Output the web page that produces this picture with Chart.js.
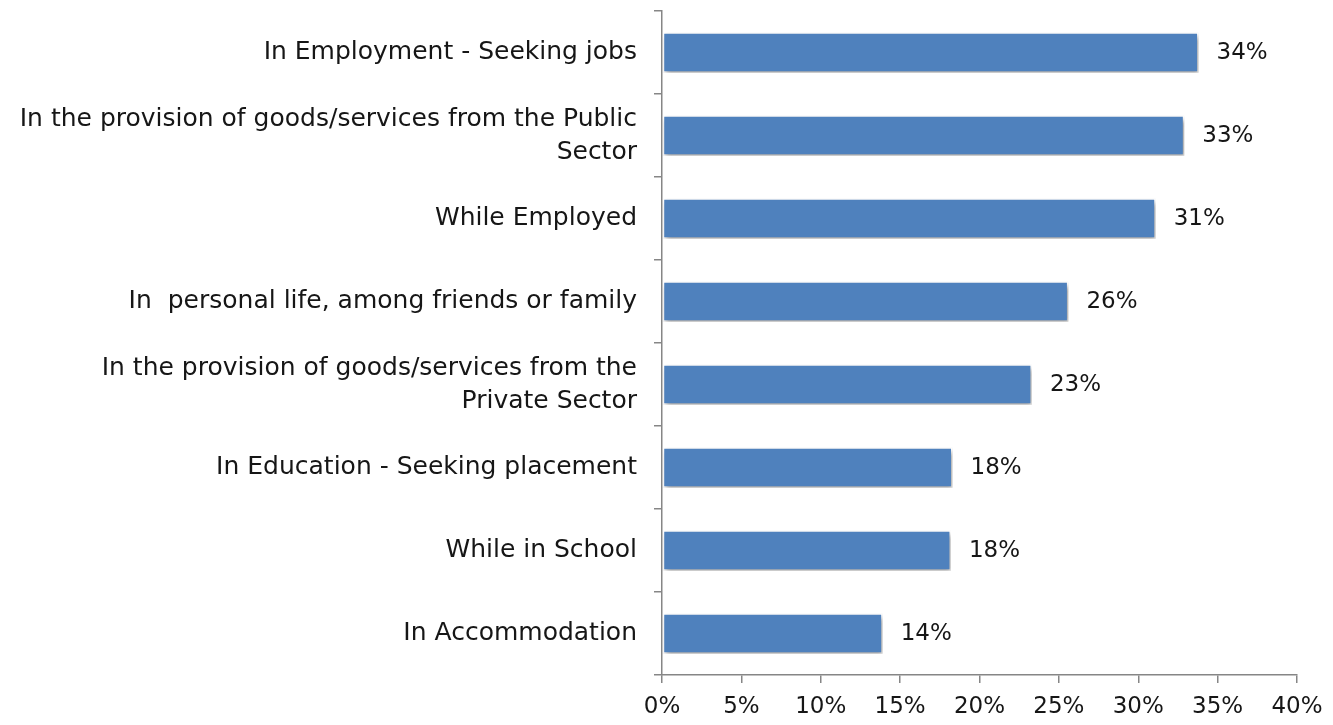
<!DOCTYPE html>
<html>
<head>
<meta charset="utf-8">
<script src="https://cdn.jsdelivr.net/npm/chart.js@4.4.1/dist/chart.umd.min.js"></script>
<style>
  html, body { margin: 0; padding: 0; background: #fff; }
  #wrap { width: 1333px; height: 725px; position: relative; }
</style>
</head>
<body>
<div id="wrap"><canvas id="c"></canvas></div>
<script>
// Where discrimination was experienced (share of respondents)
const categories = [
  'In Employment - Seeking jobs',
  ['In the provision of goods/services from the Public', 'Sector'],
  'While Employed',
  'In  personal life, among friends or family',
  ['In the provision of goods/services from the', 'Private Sector'],
  'In Education - Seeking placement',
  'While in School',
  'In Accommodation'
];
const shares = [33.8, 32.9, 31.1, 25.6, 23.3, 18.3, 18.2, 13.9];
const xTicks = [0, 5, 10, 15, 20, 25, 30, 35, 40];

const FONT = 'DejaVu Sans';
const TEXT = '#161616';
const AXIS_GREY = '#868686';

// soft drop shadow under the bars
const barShadow = {
  id: 'barShadow',
  beforeDatasetsDraw(chart) {
    const ctx = chart.ctx;
    ctx.save();
    ctx.shadowColor = 'rgba(0,0,0,0.4)';
    ctx.shadowBlur = 5;
    ctx.shadowOffsetX = 2;
    ctx.shadowOffsetY = 3;
  },
  afterDatasetsDraw(chart) {
    chart.ctx.restore();
  }
};

// percentage labels to the right of each bar
const valueLabels = {
  id: 'valueLabels',
  afterDatasetsDraw(chart) {
    const ctx = chart.ctx;
    const meta = chart.getDatasetMeta(0);
    ctx.save();
    ctx.font = '23px "' + FONT + '"';
    ctx.fillStyle = TEXT;
    ctx.textAlign = 'left';
    ctx.textBaseline = 'middle';
    meta.data.forEach((bar, i) => {
      const v = chart.data.datasets[0].data[i];
      ctx.fillText(Math.round(v) + '%', bar.x + 18, bar.y + 1);
    });
    ctx.restore();
  }
};

new Chart(document.getElementById('c'), {
  type: 'bar',
  data: {
    labels: categories,
    datasets: [{
      data: shares,
      backgroundColor: '#4F81BD',
      borderColor: '#ffffff',
      borderWidth: 1.5,
      borderSkipped: false,
      barPercentage: 0.49,
      categoryPercentage: 1.0
    }]
  },
  options: {
    indexAxis: 'y',
    responsive: true,
    maintainAspectRatio: false,
    animation: false,
    layout: { padding: { top: 11, right: 36, left: 0, bottom: 0 } },
    plugins: {
      legend: { display: false },
      tooltip: { enabled: false }
    },
    scales: {
      x: {
        min: 0,
        max: 40,
        afterBuildTicks(scale) {
          scale.ticks = xTicks.map(v => ({ value: v }));
        },
        afterFit(scale) {
          scale.height = 50;
          scale.paddingLeft = 0;
          scale.paddingRight = 0;
        },
        border: { display: true, color: AXIS_GREY, width: 1.5 },
        grid: {
          display: true,
          drawOnChartArea: false,
          drawTicks: true,
          tickLength: 8,
          color: AXIS_GREY,
          lineWidth: 1.5
        },
        ticks: {
          callback: v => v + '%',
          font: { family: FONT, size: 23 },
          color: TEXT,
          padding: 10,
          maxRotation: 0
        }
      },
      y: {
        afterFit(scale) {
          scale.width = 662;
          scale.paddingTop = 0;
          scale.paddingBottom = 0;
        },
        border: { display: true, color: AXIS_GREY, width: 1.5 },
        grid: {
          display: true,
          offset: true,
          drawOnChartArea: false,
          drawTicks: true,
          tickLength: 8,
          color: AXIS_GREY,
          lineWidth: 1.5
        },
        ticks: {
          font: { family: FONT, size: 25, lineHeight: 1.32 },
          color: TEXT,
          padding: 17,
          autoSkip: false
        }
      }
    }
  },
  plugins: [barShadow, valueLabels]
});
</script>
</body>
</html>
